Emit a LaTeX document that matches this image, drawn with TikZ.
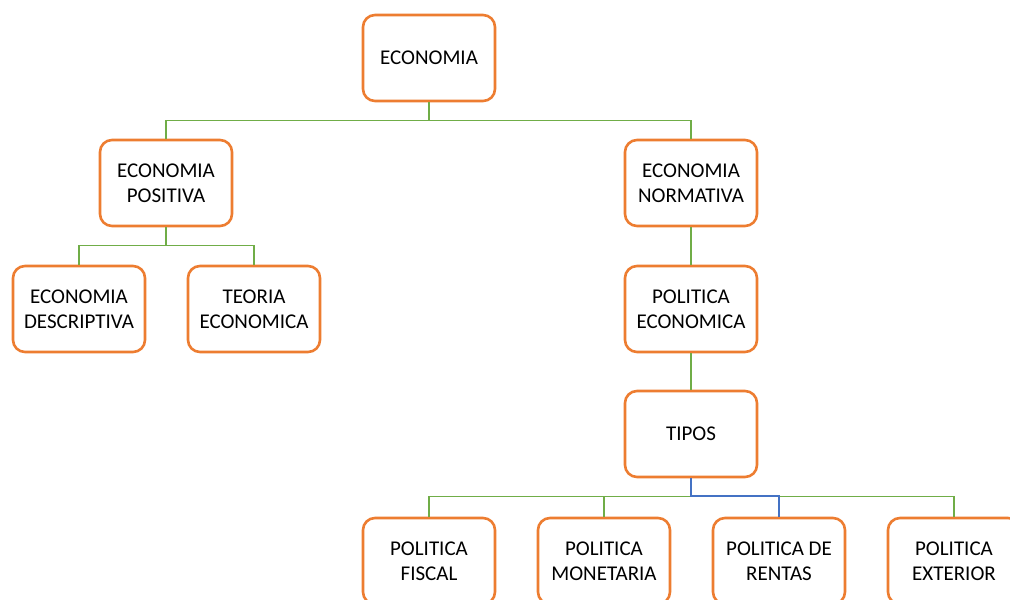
\documentclass[tikz,border=0pt]{standalone}
\usepackage{fontspec}
\setmainfont{Carlito}
\definecolor{boxorange}{HTML}{ED7D31}
\definecolor{linegreen}{HTML}{70AD47}
\definecolor{lineblue}{HTML}{4472C4}
\begin{document}
\begin{tikzpicture}[x=1pt,y=-1pt,
  box/.style={draw=boxorange,line width=2.6pt,rounded corners=12pt,fill=white,
    minimum width=132pt,minimum height=86pt,align=center,inner sep=2pt,
    font=\fontsize{21}{25}\selectfont},
  conn/.style={draw=linegreen,line width=1.3pt},
  connb/.style={draw=lineblue,line width=2pt}]
\useasboundingbox (0,0) rectangle (1010,600);
\clip (0,0) rectangle (1010,600);
\node[box] (eco) at (429,58) {ECONOMIA};
\node[box] (pos) at (166,183) {ECONOMIA\\POSITIVA};
\node[box] (nor) at (691,183) {ECONOMIA\\NORMATIVA};
\node[box] (des) at (79,309) {ECONOMIA\\DESCRIPTIVA};
\node[box] (teo) at (254,309) {TEORIA\\ECONOMICA};
\node[box] (pol) at (691,309) {POLITICA\\ECONOMICA};
\node[box] (tip) at (691,434) {TIPOS};
\node[box] (fis) at (429,561) {POLITICA\\FISCAL};
\node[box] (mon) at (604,561) {POLITICA\\MONETARIA};
\node[box] (ren) at (779,561) {POLITICA DE\\RENTAS};
\node[box] (ext) at (954,561) {POLITICA\\EXTERIOR};
\draw[conn] (eco.south) -- ++(0,18) -| (pos.north);
\draw[conn] (eco.south) -- ++(0,18) -| (nor.north);
\draw[conn] (pos.south) -- ++(0,18) -| (des.north);
\draw[conn] (pos.south) -- ++(0,18) -| (teo.north);
\draw[conn] (nor.south) -- (pol.north);
\draw[conn] (pol.south) -- (tip.north);
\draw[conn] (tip.south) -- ++(0,18) -| (fis.north);
\draw[conn] (tip.south) -- ++(0,18) -| (mon.north);
\draw[conn] (tip.south) -- ++(0,18) -| (ext.north);
\draw[connb] (tip.south) -- ++(0,18) -| (ren.north);
\end{tikzpicture}
\end{document}
